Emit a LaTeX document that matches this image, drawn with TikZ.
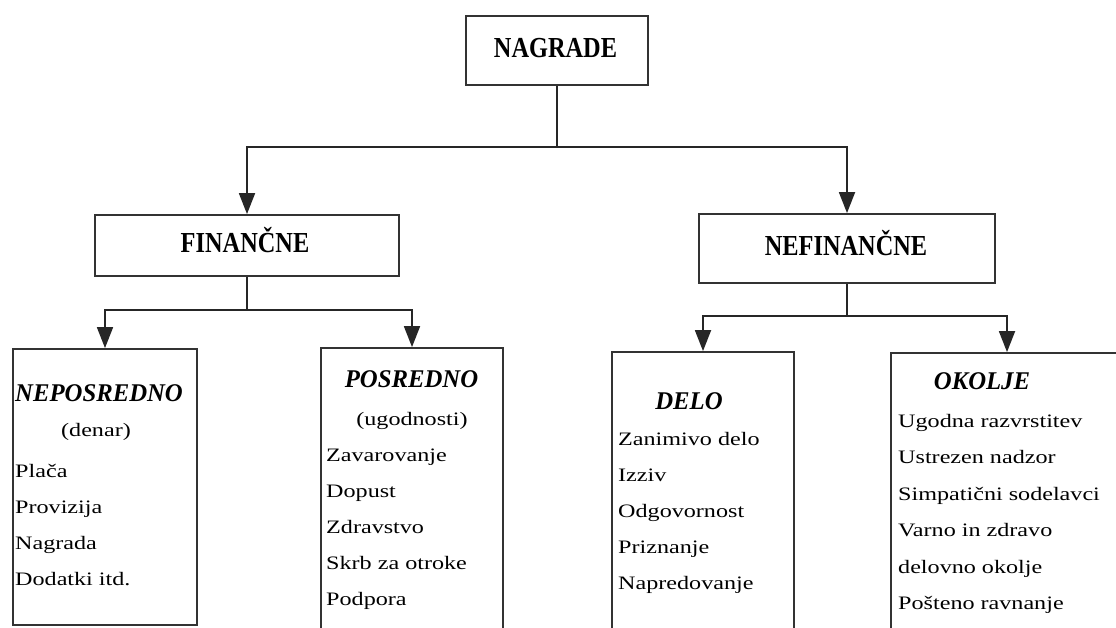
\documentclass[tikz,border=0pt]{standalone}
\usepackage{fontspec}
\setmainfont{Liberation Serif}
\newfontfamily\bodyf{Liberation Serif}[FakeStretch=1.27]
\newfontfamily\topf{Liberation Serif Bold}[FakeStretch=0.84]
\newfontfamily\hdf{Liberation Serif Bold Italic}[FakeStretch=0.97]
\usetikzlibrary{arrows.meta}
\begin{document}
\begin{tikzpicture}[x=1pt,y=-1pt,
  box/.style={draw=black!80,line width=1.8pt,rectangle,inner sep=0pt,fill=none},
  conn/.style={draw=black!85,line width=1.8pt},
  arr/.style={conn,-{Triangle[width=16pt,length=21pt]}},
  toptxt/.style={inner sep=0pt,anchor=base,font=\topf\fontsize{29}{29}\selectfont},
  hdtxt/.style={inner sep=0pt,anchor=base,font=\hdf\fontsize{25.5}{25.5}\selectfont},
  bodytxt/.style={inner sep=0pt,anchor=base west,font=\bodyf\fontsize{19}{19}\selectfont},
  subtxt/.style={inner sep=0pt,anchor=base,font=\bodyf\fontsize{19}{19}\selectfont}]
\useasboundingbox (0,0) rectangle (1116,628);
\clip (0,0) rectangle (1116,628);
% boxes
\node[box,minimum width=182pt,minimum height=69pt] (nagrade) at (557,50.5) {};
\node[box,minimum width=304pt,minimum height=61pt] (fin) at (247,245.5) {};
\node[box,minimum width=296pt,minimum height=69pt] (nefin) at (847,248.5) {};
\node[box,minimum width=184pt,minimum height=276pt] (nep) at (105,487) {};
\node[box,minimum width=182pt,minimum height=312pt] (pos) at (412,504) {};
\node[box,minimum width=182pt,minimum height=308pt] (delo) at (703,506) {};
\node[box,minimum width=232pt,minimum height=307pt] (okolje) at (1007,506.5) {};
% junctions
\coordinate (j1) at (557,147);
\coordinate (j2) at (247,310);
\coordinate (j3) at (847,316);
% connectors
\draw[conn] (nagrade.south) -- (j1);
\draw[arr] (j1) -| (fin.north);
\draw[arr] (j1) -| (nefin.north);
\draw[conn] (fin.south) -- (j2);
\draw[arr] (j2) -| (nep.north);
\draw[arr] (j2) -| (pos.north);
\draw[conn] (nefin.south) -- (j3);
\draw[arr] (j3) -| (delo.north);
\draw[arr] (j3) -| (okolje.north);
% top texts
\node[toptxt] (tnag) at (555.5,58) {NAGRADE};
\node[toptxt] (tfin) at (245,253) {FINANČNE};
\node[toptxt] (tnef) at (846,256) {NEFINANČNE};
% NEPOSREDNO
\node[hdtxt,anchor=base west] (hnep) at (15,401) {NEPOSREDNO};
\node[subtxt] (snep) at (96,436) {(denar)};
\node[bodytxt] (nep1) at (15,477) {Plača};
\node[bodytxt] (nep2) at (15,513) {Provizija};
\node[bodytxt] (nep3) at (15,549) {Nagrada};
\node[bodytxt] (nep4) at (15,585) {Dodatki itd.};
% POSREDNO
\node[hdtxt] (hpos) at (411.5,387) {POSREDNO};
\node[subtxt] (spos) at (412,425) {(ugodnosti)};
\node[bodytxt] (pos1) at (326,461) {Zavarovanje};
\node[bodytxt] (pos2) at (326,497) {Dopust};
\node[bodytxt] (pos3) at (326,533) {Zdravstvo};
\node[bodytxt] (pos4) at (326,569) {Skrb za otroke};
\node[bodytxt] (pos5) at (326,605) {Podpora};
% DELO
\node[hdtxt] (hdelo) at (689,409) {DELO};
\node[bodytxt] (delo1) at (618,445) {Zanimivo delo};
\node[bodytxt] (delo2) at (618,481) {Izziv};
\node[bodytxt] (delo3) at (618,517) {Odgovornost};
\node[bodytxt] (delo4) at (618,553) {Priznanje};
\node[bodytxt] (delo5) at (618,589) {Napredovanje};
% OKOLJE
\node[hdtxt] (hok) at (982,389) {OKOLJE};
\node[bodytxt] (ok1) at (898,427) {Ugodna razvrstitev};
\node[bodytxt] (ok2) at (898,463.5) {Ustrezen nadzor};
\node[bodytxt] (ok3) at (898,500) {Simpatični sodelavci};
\node[bodytxt] (ok4) at (898,536.5) {Varno in zdravo};
\node[bodytxt] (ok5) at (898,573) {delovno okolje};
\node[bodytxt] (ok6) at (898,609.5) {Pošteno ravnanje};
\end{tikzpicture}
\end{document}
